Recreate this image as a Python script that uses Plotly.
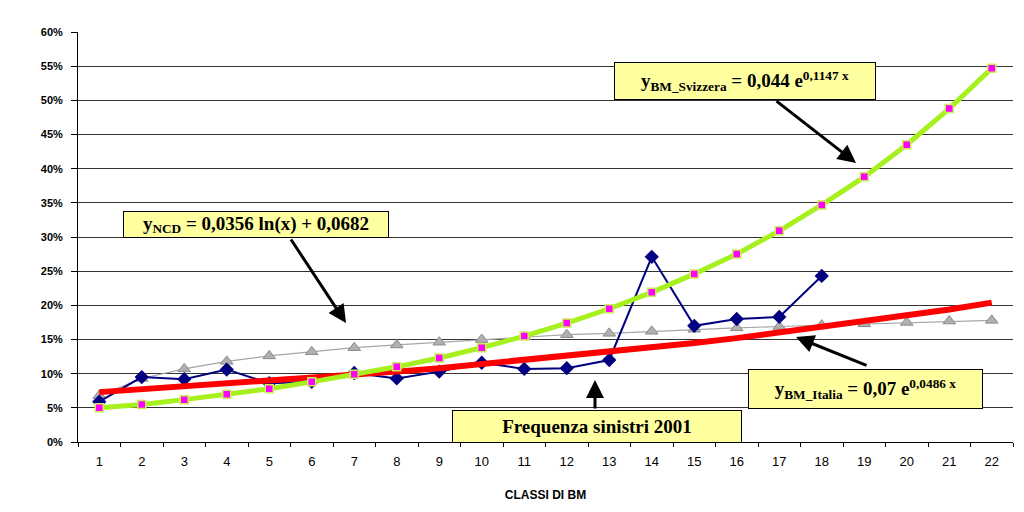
import plotly.graph_objects as go

# Classi di bonus-malus
classi = [str(i) for i in range(1, 23)]

# Frequenza sinistri 2001 (osservata, classi 1-18)
freq_2001 = [0.059, 0.095, 0.092, 0.106, 0.086, 0.088, 0.101, 0.093, 0.103, 0.116,
             0.107, 0.108, 0.120, 0.271, 0.170, 0.180, 0.183, 0.243]

# NCD (curva grigia)
ncd = [0.068, 0.093, 0.107, 0.118, 0.126, 0.132, 0.138, 0.142, 0.146, 0.150, 0.154,
       0.157, 0.159, 0.162, 0.165, 0.167, 0.169, 0.171, 0.173, 0.175, 0.177, 0.178]

# BM Svizzera (curva verde)
svizzera = [0.050, 0.055, 0.062, 0.070, 0.078, 0.088, 0.099, 0.110, 0.123, 0.138, 0.155,
            0.174, 0.195, 0.219, 0.246, 0.275, 0.309, 0.347, 0.388, 0.435, 0.488, 0.547]

# BM Italia (curva rossa)
italia = [0.073, 0.077, 0.081, 0.085, 0.089, 0.093, 0.098, 0.103, 0.108, 0.114, 0.119,
          0.125, 0.132, 0.138, 0.145, 0.152, 0.160, 0.168, 0.176, 0.185, 0.194, 0.204]

# plot area in screenshot pixels (page body has an 8px margin)
L, R, T, B = 78, 1013, 32, 442
OFF = 8


def px(x):
    return (x - L) / (R - L)


def py(y):
    return (B - y) / (B - T)


fig = go.Figure()

fig.add_trace(go.Scatter(x=classi, y=ncd, mode='lines+markers', name='NCD',
                         line=dict(color='#A6A6A6', width=1.2),
                         marker=dict(symbol='triangle-up', size=11, color='#B0B0B0',
                                     line=dict(color='#8C8C8C', width=1))))
fig.add_trace(go.Scatter(x=classi[:len(freq_2001)], y=freq_2001, mode='lines+markers',
                         name='Frequenza sinistri 2001',
                         line=dict(color='#000080', width=2),
                         marker=dict(symbol='diamond', size=11, color='#000080')))
fig.add_trace(go.Scatter(x=classi, y=italia, mode='lines', name='BM Italia',
                         line=dict(color='#FF0000', width=6)))
fig.add_trace(go.Scatter(x=classi, y=svizzera, mode='lines+markers', name='BM Svizzera',
                         line=dict(color='#A6F01E', width=5),
                         marker=dict(symbol='square', size=8, color='#FF00FF',
                                     line=dict(color='#CCEE55', width=1.5))))

serif = 'Liberation Serif, Times New Roman, serif'
narrow = 'Liberation Sans Narrow, Arial Narrow, Liberation Sans'

# text boxes: (x0, y0, x1, y1, text)
boxes = [
    (123, 211, 389, 238, 'y<sub>NCD</sub> = 0,0356 ln(x) + 0,0682'),
    (614, 62, 876, 100, 'y<sub>BM_Svizzera</sub> = 0,044 e<sup>0,1147 x</sup>'),
    (748, 369, 983, 409, 'y<sub>BM_Italia</sub> = 0,07 e<sup>0,0486 x</sup>'),
    (452, 410, 742, 443, 'Frequenza sinistri 2001'),
]
for x0, y0, x1, y1, txt in boxes:
    fig.add_annotation(x=px((x0 + x1) / 2), y=py((y0 + y1) / 2), xref='paper', yref='paper',
                       text='<b>' + txt + '</b>', showarrow=False,
                       width=x1 - x0 - 2, height=y1 - y0 - 2, borderpad=0,
                       bgcolor='#FFFFA0', bordercolor='#000000', borderwidth=1,
                       font=dict(family=serif, size=19, color='black'),
                       xanchor='center', yanchor='middle')

# arrows: (tail x, tail y, head x, head y)
arrows = [
    (290, 238, 346, 323),
    (775, 100, 856, 163),
    (868, 366, 796, 337),
    (595, 410, 595, 380),
]
for tx, ty, hx, hy in arrows:
    fig.add_annotation(x=px(hx), y=py(hy), xref='paper', yref='paper', text='',
                       showarrow=True, ax=tx - hx, ay=ty - hy,
                       arrowhead=2, arrowsize=1.2, arrowwidth=3, arrowcolor='black')

fig.update_layout(
    width=1024, height=512,
    margin=dict(l=L - OFF, r=1024 - (R - OFF), t=T - OFF, b=512 - (B - OFF),
                autoexpand=False),
    paper_bgcolor='white', plot_bgcolor='white',
    showlegend=False,
    xaxis=dict(type='category', tickson='boundaries', ticks='outside', ticklen=4,
               tickcolor='black', showline=True, linecolor='black', showgrid=False,
               range=[-0.5, 21.5], automargin=False, ticklabelstandoff=7,
               tickfont=dict(family=narrow, size=13, color='black'),
               title=dict(text='<b>CLASSI DI BM</b>', standoff=23,
                          font=dict(family=narrow, size=12, color='black'))),
    yaxis=dict(range=[0, 0.6], dtick=0.05, tickformat='.0%', ticks='outside', ticklen=6,
               tickcolor='black', showline=True, linecolor='black', automargin=False,
               showgrid=True, gridcolor='#333333', gridwidth=1, zeroline=False,
               ticklabelstandoff=6,
               tickfont=dict(family='Liberation Sans, Arial', size=11, color='black'),
               tickprefix='<b>', ticksuffix='</b>'),
)

fig.write_html("out.html")
